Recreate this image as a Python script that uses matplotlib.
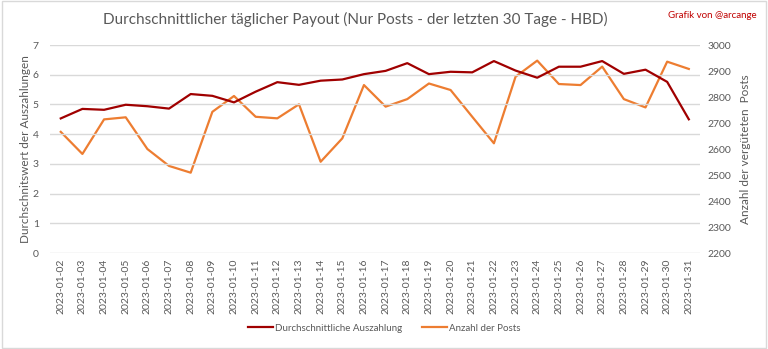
import matplotlib.pyplot as plt

plt.rcParams['font.family'] = ['Lato', 'DejaVu Sans']

dates = ["2023-01-%02d" % d for d in range(2, 32)]

payout = [4.53, 4.85, 4.82, 4.99, 4.94, 4.86, 5.35, 5.29, 5.07, 5.43,
          5.75, 5.66, 5.80, 5.84, 6.02, 6.13, 6.39, 6.02, 6.10, 6.08,
          6.46, 6.14, 5.90, 6.27, 6.27, 6.46, 6.03, 6.17, 5.76, 4.50]

posts = [2666, 2581, 2714, 2722, 2600, 2535, 2509, 2743, 2804, 2724,
         2718, 2772, 2551, 2641, 2846, 2763, 2792, 2852, 2827, 2724,
         2622, 2878, 2940, 2850, 2846, 2917, 2792, 2760, 2936, 2908]

grey = '#595959'
red = '#A00000'
orange = '#ED7D31'

fig = plt.figure(figsize=(7.68, 3.49), dpi=100)
ax = fig.add_axes([0.065, 0.275, 0.846, 0.596])
ax2 = ax.twinx()

x = list(range(len(dates)))
l1, = ax.plot(x, payout, color=red, lw=1.6, label='Durchschnittliche Auszahlung')
l2, = ax2.plot(x, posts, color=orange, lw=1.6, label='Anzahl der Posts')
ax.set_zorder(ax2.get_zorder() + 1)
ax.patch.set_visible(False)

ax.set_xlim(-0.5, len(dates) - 0.5)
ax.set_ylim(0, 7)
ax2.set_ylim(2200, 3000)
ax.set_yticks(range(0, 8))
ax2.set_yticks(range(2200, 3001, 100))
ax.set_xticks(x)
ax.set_xticklabels(dates, rotation=90)

ax.grid(axis='y', color='#D9D9D9', lw=1)
for a in (ax, ax2):
    for s in a.spines.values():
        s.set_visible(False)
    a.tick_params(length=0, colors=grey, labelsize=7.5)
ax.tick_params(axis='y', pad=8)
ax2.tick_params(axis='y', pad=6)
ax.tick_params(axis='x', pad=4)

ax.set_ylabel('Durchschnitswert der Auszahlungen', color=grey, fontsize=8.5, labelpad=1)
ax2.set_ylabel('Anzahl der vergüteten  Posts', color=grey, fontsize=8.5, labelpad=6)

fig.text(0.462, 0.943, 'Durchschnittlicher täglicher Payout (Nur Posts - der letzten 30 Tage - HBD)',
         ha='center', va='center', color=grey, fontsize=11)
fig.text(0.985, 0.955, 'Grafik von @arcange', ha='right', va='center', color='#C00000', fontsize=7)

fig.legend(handles=[l1, l2], loc='center', bbox_to_anchor=(0.5, 0.06), ncol=2,
           frameon=False, fontsize=7, labelcolor=grey, handlelength=2.6,
           handletextpad=0.2, columnspacing=2.0)

fig.patches.append(plt.Rectangle((0.002, 0.003), 0.996, 0.994, transform=fig.transFigure,
                                 fill=False, edgecolor='#D9D9D9', lw=1))

fig.savefig('out.png', dpi=100)
